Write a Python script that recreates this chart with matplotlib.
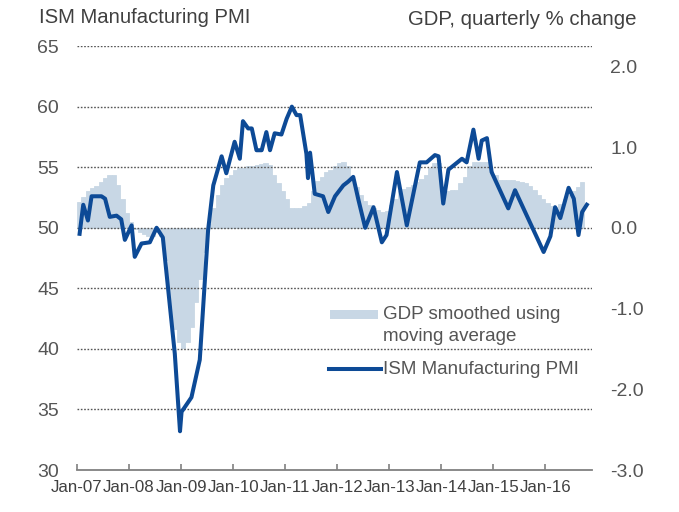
import matplotlib
matplotlib.use("Agg")
import matplotlib.pyplot as plt
from matplotlib.patches import Rectangle
from matplotlib.lines import Line2D
import numpy as np

plt.rcParams['font.family'] = ['Liberation Sans', 'DejaVu Sans']

# ISM Manufacturing PMI (decimal year, index value)
pmi_x = [2007.05, 2007.12, 2007.21, 2007.28, 2007.37, 2007.47, 2007.54, 2007.63,
         2007.76, 2007.85, 2007.92, 2008.05, 2008.11, 2008.24, 2008.40, 2008.53,
         2008.65, 2008.88, 2008.98, 2009.01, 2009.20, 2009.36, 2009.52, 2009.62,
         2009.78, 2009.87, 2010.03, 2010.13, 2010.19, 2010.29, 2010.36, 2010.45,
         2010.55, 2010.64, 2010.71, 2010.80, 2010.93, 2011.03, 2011.13, 2011.22,
         2011.29, 2011.41, 2011.44, 2011.48, 2011.57, 2011.73, 2011.83, 2011.96,
         2012.12, 2012.21, 2012.31, 2012.41, 2012.54, 2012.70, 2012.86, 2012.95,
         2013.15, 2013.34, 2013.59, 2013.72, 2013.88, 2013.95, 2014.04, 2014.14,
         2014.40, 2014.49, 2014.62, 2014.72, 2014.78, 2014.88, 2014.97, 2015.29,
         2015.42, 2015.97, 2016.10, 2016.19, 2016.29, 2016.45, 2016.55, 2016.64,
         2016.71, 2016.80]
pmi = [49.5, 51.9, 50.6, 52.6, 52.6, 52.6, 52.4, 50.9,
       51.0, 50.7, 49.0, 50.2, 47.6, 48.7, 48.8, 50.0,
       49.2, 39.6, 33.2, 34.8, 36.0, 39.1, 49.8, 53.5,
       55.9, 54.5, 57.1, 55.7, 58.8, 58.2, 58.2, 56.4,
       56.4, 57.9, 56.4, 57.8, 57.7, 59.0, 60.0, 59.3,
       59.3, 56.1, 54.1, 56.2, 52.8, 52.6, 51.3, 52.6,
       53.5, 53.8, 54.2, 52.3, 50.0, 51.7, 48.8, 49.4,
       54.6, 50.2, 55.4, 55.4, 56.0, 55.9, 52.0, 54.8,
       55.7, 55.4, 58.1, 55.7, 57.2, 57.4, 54.6, 51.6,
       53.1, 48.0, 49.3, 51.7, 50.8, 53.3, 52.4, 49.4,
       51.3, 51.9]

# GDP smoothed, quarterly % change, one value per month from Jan-07
gdp = [0.32, 0.38, 0.45, 0.49, 0.52, 0.57, 0.62, 0.65, 0.65, 0.53,
       0.36, 0.18, 0.07, -0.02, -0.05, -0.08, -0.10, -0.10, -0.05, -0.10,
       -0.40, -0.98, -1.25, -1.41, -1.49, -1.41, -1.23, -0.92, -0.63, -0.30,
       0.05, 0.25, 0.41, 0.53, 0.62, 0.65, 0.72, 0.74, 0.74, 0.76,
       0.77, 0.78, 0.79, 0.80, 0.78, 0.65, 0.55, 0.45, 0.36, 0.25,
       0.24, 0.25, 0.27, 0.31, 0.45, 0.58, 0.63, 0.69, 0.72, 0.76,
       0.80, 0.82, 0.76, 0.63, 0.50, 0.40, 0.33, 0.28, 0.24, 0.22,
       0.20, 0.21, 0.28, 0.36, 0.45, 0.48, 0.51, 0.53, 0.57, 0.61,
       0.65, 0.74, 0.80, 0.80, 0.45, 0.45, 0.47, 0.47, 0.55, 0.63,
       0.76, 0.82, 0.82, 0.82, 0.82, 0.70, 0.65, 0.59, 0.59, 0.59,
       0.59, 0.58, 0.57, 0.55, 0.52, 0.47, 0.41, 0.36, 0.31, 0.27,
       0.26, 0.30, 0.36, 0.41, 0.46, 0.51, 0.57]
gdp_x = 2007 + np.arange(len(gdp)) / 12.0

years = list(range(2007, 2017))
year_labels = ["Jan-%02d" % (y - 2000) for y in years]

line_col = '#0d4a96'
shade_col = '#c8d7e5'
txt_col = '#404040'
lab_col = '#555555'

fig = plt.figure(figsize=(6.79, 5.12), dpi=100)
ax = fig.add_axes([0.1134, 0.082, 0.7585, 0.828])
ax2 = ax.twinx()

ax2.bar(gdp_x, gdp, width=1 / 12.0, align='edge', color=shade_col,
        edgecolor=shade_col, linewidth=0.6)
ax2.set_ylim(-3.0, 2.25)
ax2.set_yticks([-3, -2, -1, 0, 1, 2])
ax2.set_yticklabels(["%.1f" % v for v in [-3, -2, -1, 0, 1, 2]])

ax.set_zorder(ax2.get_zorder() + 1)
ax.patch.set_visible(False)
for y in range(35, 70, 5):
    ax.axhline(y, color='#555555', lw=1.0, ls=(0, (1.2, 1.2)), zorder=1)
ax.plot(pmi_x, pmi, color=line_col, lw=2.9, solid_joinstyle='round', zorder=3)
ax.set_ylim(30, 65)
ax.set_yticks(range(30, 70, 5))
ax.set_xlim(2007, 2016.9)
ax.set_xticks(years)
ax.set_xticklabels(year_labels)

for a in (ax, ax2):
    for s in a.spines.values():
        s.set_visible(False)
ax.spines['bottom'].set_visible(True)
ax.spines['bottom'].set_color('#808080')
ax.spines['bottom'].set_linewidth(1.3)

ax.tick_params(axis='x', direction='in', length=4, width=1.2, color='#808080',
               labelsize=12.2, labelcolor=txt_col, pad=7)
ax.tick_params(axis='y', length=0, labelsize=14, labelcolor=lab_col, pad=13)
ax2.tick_params(axis='y', length=0, labelsize=14, labelcolor=lab_col, pad=13)

fig.text(0.058, 0.965, "ISM Manufacturing PMI", fontsize=14.6, color=txt_col,
         ha='left', va='center')
fig.text(0.938, 0.962, "GDP, quarterly % change", fontsize=14.7, color=txt_col,
         ha='right', va='center')

# legend, drawn by hand to match the layout
ax.add_patch(Rectangle((0.491, 0.356), 0.093, 0.021, transform=ax.transAxes,
                       facecolor=shade_col, edgecolor='none', zorder=4))
ax.text(0.594, 0.368, "GDP smoothed using", transform=ax.transAxes, fontsize=13.5,
        color=lab_col, ha='left', va='center', zorder=4)
ax.text(0.594, 0.314, "moving average", transform=ax.transAxes, fontsize=13.5,
        color=lab_col, ha='left', va='center', zorder=4)
ax.add_line(Line2D([0.489, 0.590], [0.238, 0.238], transform=ax.transAxes,
                   color=line_col, lw=2.9, zorder=4))
ax.text(0.594, 0.238, "ISM Manufacturing PMI", transform=ax.transAxes, fontsize=13.5,
        color=lab_col, ha='left', va='center', zorder=4)

fig.savefig("out.png", dpi=100)
